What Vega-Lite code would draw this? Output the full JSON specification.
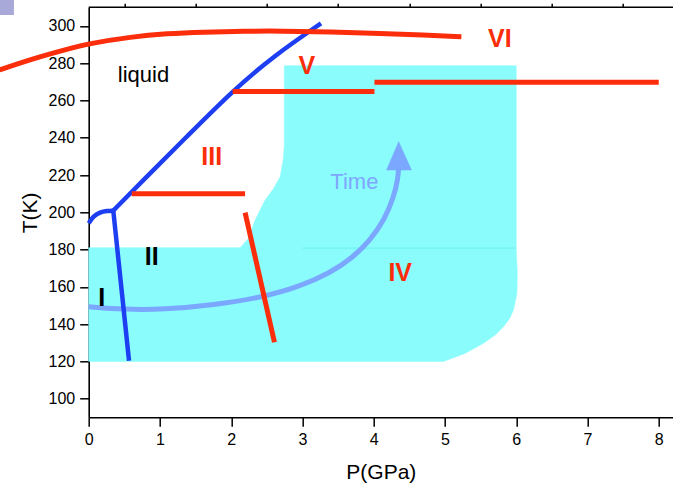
{
  "$schema": "https://vega.github.io/schema/vega-lite/v6.json",
  "width": 584.3,
  "height": 410,
  "autosize": {"type": "none"},
  "padding": {"left": 88.7, "top": 7.3, "right": 0, "bottom": 66.7},
  "background": "white",
  "config": {
    "font": "Liberation Sans",
    "view": {"stroke": null},
    "axis": {
      "grid": false,
      "domainColor": "black",
      "domainWidth": 1.6,
      "tickColor": "black",
      "tickWidth": 1.5,
      "labelColor": "black",
      "labelFont": "Liberation Sans",
      "labelFontSize": 16,
      "titleFont": "Liberation Sans",
      "titleFontSize": 21,
      "titleFontWeight": "normal",
      "titleColor": "black"
    }
  },
  "datasets": {
    "poly": [
      {"P": 0, "T": 120, "o": 1},
      {"P": 4.98, "T": 120, "o": 2},
      {"P": 5.28, "T": 124.3, "o": 3},
      {"P": 5.54, "T": 129.7, "o": 4},
      {"P": 5.71, "T": 134.3, "o": 5},
      {"P": 5.82, "T": 138.6, "o": 6},
      {"P": 5.91, "T": 143.2, "o": 7},
      {"P": 5.96, "T": 147.5, "o": 8},
      {"P": 6.01, "T": 156.5, "o": 9},
      {"P": 6.015, "T": 167.3, "o": 10},
      {"P": 6.0, "T": 180, "o": 11},
      {"P": 6.0, "T": 278.7, "o": 12},
      {"P": 2.745, "T": 278.7, "o": 13},
      {"P": 2.745, "T": 236, "o": 14},
      {"P": 2.729, "T": 228.1, "o": 15},
      {"P": 2.687, "T": 219.1, "o": 16},
      {"P": 2.59, "T": 212.5, "o": 17},
      {"P": 2.476, "T": 206.6, "o": 18},
      {"P": 2.336, "T": 195.9, "o": 19},
      {"P": 2.24, "T": 186, "o": 20},
      {"P": 2.125, "T": 181, "o": 21},
      {"P": 0, "T": 181, "o": 22}
    ],
    "arrowhead": [
      {"P": 4.35, "T": 237.9, "o": 1},
      {"P": 4.53, "T": 222.7, "o": 2},
      {"P": 4.18, "T": 222.7, "o": 3}
    ],
    "square": [
      {"P1": -1.3, "P2": -1.049, "T1": 305.9, "T2": 315}
    ],
    "lines": [
      {"s": "faint", "P": 3.0, "T": 180.8, "o": 1},
      {"s": "faint", "P": 6.0, "T": 180.8, "o": 2},

      {"s": "time", "P": 0, "T": 149.3, "o": 1},
      {"s": "time", "P": 0.5, "T": 147.8, "o": 2},
      {"s": "time", "P": 1.05, "T": 147.8, "o": 3},
      {"s": "time", "P": 1.75, "T": 150.2, "o": 4},
      {"s": "time", "P": 2.45, "T": 154.5, "o": 5},
      {"s": "time", "P": 2.95, "T": 160, "o": 6},
      {"s": "time", "P": 3.39, "T": 167.5, "o": 7},
      {"s": "time", "P": 3.7, "T": 175.5, "o": 8},
      {"s": "time", "P": 3.95, "T": 185, "o": 9},
      {"s": "time", "P": 4.15, "T": 196, "o": 10},
      {"s": "time", "P": 4.28, "T": 208, "o": 11},
      {"s": "time", "P": 4.34, "T": 218, "o": 12},
      {"s": "time", "P": 4.35, "T": 224, "o": 13},

      {"s": "b1", "P": 0, "T": 194.1, "o": 1},
      {"s": "b1", "P": 0.065, "T": 197.9, "o": 2},
      {"s": "b1", "P": 0.159, "T": 200.1, "o": 3},
      {"s": "b1", "P": 0.253, "T": 200.8, "o": 4},
      {"s": "b1", "P": 0.345, "T": 200.9, "o": 5},
      {"s": "b2", "P": 0.345, "T": 200.9, "o": 1},
      {"s": "b2", "P": 0.767, "T": 217.3, "o": 2},
      {"s": "b2", "P": 1.4, "T": 241.5, "o": 3},
      {"s": "b2", "P": 2.02, "T": 265.2, "o": 4},
      {"s": "b2", "P": 2.6, "T": 284, "o": 5},
      {"s": "b2", "P": 3.26, "T": 301.4, "o": 6},
      {"s": "b3", "P": 0.345, "T": 200.9, "o": 1},
      {"s": "b3", "P": 0.566, "T": 120.3, "o": 2},

      {"s": "r1", "P": -1.3, "T": 275.8, "o": 1},
      {"s": "r1", "P": -0.8, "T": 282.3, "o": 2},
      {"s": "r1", "P": -0.3, "T": 287.6, "o": 3},
      {"s": "r1", "P": 0, "T": 290.5, "o": 4},
      {"s": "r1", "P": 0.6, "T": 294.2, "o": 5},
      {"s": "r1", "P": 1.1, "T": 295.9, "o": 6},
      {"s": "r1", "P": 1.6, "T": 296.7, "o": 7},
      {"s": "r1", "P": 2.2, "T": 297.2, "o": 8},
      {"s": "r1", "P": 2.7, "T": 297.3, "o": 9},
      {"s": "r1", "P": 3.4, "T": 296.8, "o": 10},
      {"s": "r1", "P": 4.1, "T": 296, "o": 11},
      {"s": "r1", "P": 4.7, "T": 295.1, "o": 12},
      {"s": "r1", "P": 5.23, "T": 294.2, "o": 13},
      {"s": "r2", "P": 0.604, "T": 210, "o": 1},
      {"s": "r2", "P": 2.195, "T": 210, "o": 2},
      {"s": "r3", "P": 2.195, "T": 199.8, "o": 1},
      {"s": "r3", "P": 2.607, "T": 130.3, "o": 2},
      {"s": "r4", "P": 2.02, "T": 264.8, "o": 1},
      {"s": "r4", "P": 4.01, "T": 264.8, "o": 2},
      {"s": "r5", "P": 4.01, "T": 269.8, "o": 1},
      {"s": "r5", "P": 8.0, "T": 269.8, "o": 2}
    ],
    "roman": [
      {"t": "I", "P": 0.183, "T": 153.9, "c": "black"},
      {"t": "II", "P": 0.885, "T": 175.9, "c": "black"},
      {"t": "III", "P": 1.727, "T": 229.5, "c": "#fb2d0a"},
      {"t": "IV", "P": 4.372, "T": 167.3, "c": "#fb2d0a"},
      {"t": "V", "P": 3.06, "T": 278.7, "c": "#fb2d0a"},
      {"t": "VI", "P": 5.77, "T": 293.0, "c": "#fb2d0a"}
    ],
    "liquid": [{"t": "liquid", "P": 0.769, "T": 270.1}],
    "time": [{"t": "Time", "P": 3.728, "T": 212.3}]
  },
  "resolve": {"axis": {"x": "independent", "y": "independent"}},
  "layer": [
    {
      "data": {"name": "poly"},
      "mark": {"type": "line", "interpolate": "linear-closed", "fill": "#8afcfc", "stroke": "#8afcfc", "strokeWidth": 0.5},
      "encoding": {
        "x": {"field": "P", "type": "quantitative", "scale": {"domain": [0, 8.2], "nice": false, "zero": false},
          "axis": {"title": "P(GPa)", "values": [0, 1, 2, 3, 4, 5, 6, 7, 8], "tickSize": 9, "labelPadding": 5, "titlePadding": 14, "labelFlush": false}},
        "y": {"field": "T", "type": "quantitative", "scale": {"domain": [90, 310], "nice": false, "zero": false},
          "axis": {"title": "T(K)", "values": [100, 120, 140, 160, 180, 200, 220, 240, 260, 280, 300], "tickSize": 9, "labelPadding": 5, "titlePadding": 8, "labelFlush": false}},
        "order": {"field": "o", "type": "quantitative"}
      }
    },
    {
      "data": {"name": "lines"},
      "transform": [{"filter": "datum.s == 'faint'"}],
      "mark": {"type": "line", "color": "#6ef0f2", "strokeWidth": 1},
      "encoding": {
        "x": {"field": "P", "type": "quantitative", "scale": {"domain": [0, 8.2], "nice": false, "zero": false},
          "axis": {"title": null, "values": [0.5, 1.5, 2.5, 3.5, 4.5, 5.5, 6.5, 7.5], "tickSize": 4, "labels": false, "domain": false}},
        "y": {"field": "T", "type": "quantitative", "scale": {"domain": [90, 310], "nice": false, "zero": false},
          "axis": {"title": null, "values": [90, 110, 130, 150, 170, 190, 210, 230, 250, 270, 290, 310], "tickSize": 4, "labels": false, "domain": false}},
        "order": {"field": "o", "type": "quantitative"}
      }
    },
    {
      "data": {"name": "lines"},
      "transform": [{"filter": "datum.s == 'time'"}],
      "mark": {"type": "line", "interpolate": "basis", "color": "#7ba7ff", "strokeWidth": 5},
      "encoding": {
        "x": {"field": "P", "type": "quantitative", "axis": null},
        "y": {"field": "T", "type": "quantitative", "axis": null},
        "order": {"field": "o", "type": "quantitative"}
      }
    },
    {
      "data": {"name": "arrowhead"},
      "mark": {"type": "line", "interpolate": "linear-closed", "fill": "#7ba7ff", "stroke": "#7ba7ff", "strokeWidth": 0.5},
      "encoding": {
        "x": {"field": "P", "type": "quantitative", "axis": null},
        "y": {"field": "T", "type": "quantitative", "axis": null},
        "order": {"field": "o", "type": "quantitative"}
      }
    },
    {
      "data": {"name": "lines"},
      "transform": [{"filter": {"field": "s", "oneOf": ["b1", "b2", "b3"]}}],
      "mark": {"type": "line", "interpolate": "basis", "color": "#1e3ef2", "strokeWidth": 4.5},
      "encoding": {
        "x": {"field": "P", "type": "quantitative", "axis": null},
        "y": {"field": "T", "type": "quantitative", "axis": null},
        "detail": {"field": "s", "type": "nominal"},
        "order": {"field": "o", "type": "quantitative"}
      }
    },
    {
      "data": {"name": "lines"},
      "transform": [{"filter": {"field": "s", "oneOf": ["r1", "r2", "r3", "r4", "r5"]}}],
      "mark": {"type": "line", "interpolate": "basis", "color": "#fb2d0a", "strokeWidth": 5},
      "encoding": {
        "x": {"field": "P", "type": "quantitative", "axis": null},
        "y": {"field": "T", "type": "quantitative", "axis": null},
        "detail": {"field": "s", "type": "nominal"},
        "order": {"field": "o", "type": "quantitative"}
      }
    },
    {
      "data": {"values": [{}]},
      "mark": {"type": "rule", "color": "black", "strokeWidth": 1.6},
      "encoding": {"y": {"datum": 310, "type": "quantitative", "axis": null}}
    },
    {
      "data": {"name": "square"},
      "mark": {"type": "rect", "color": "#a9a9d9"},
      "encoding": {
        "x": {"field": "P1", "type": "quantitative", "axis": null},
        "x2": {"field": "P2"},
        "y": {"field": "T1", "type": "quantitative", "axis": null},
        "y2": {"field": "T2"}
      }
    },
    {
      "data": {"name": "roman"},
      "mark": {"type": "text", "font": "Liberation Sans", "fontSize": 25, "fontWeight": "bold", "baseline": "middle", "align": "center"},
      "encoding": {
        "x": {"field": "P", "type": "quantitative", "axis": null},
        "y": {"field": "T", "type": "quantitative", "axis": null},
        "text": {"field": "t"},
        "color": {"field": "c", "type": "nominal", "scale": null}
      }
    },
    {
      "data": {"name": "liquid"},
      "mark": {"type": "text", "font": "Liberation Sans", "fontSize": 22, "baseline": "alphabetic", "align": "center", "color": "black"},
      "encoding": {
        "x": {"field": "P", "type": "quantitative", "axis": null},
        "y": {"field": "T", "type": "quantitative", "axis": null},
        "text": {"field": "t"}
      }
    },
    {
      "data": {"name": "time"},
      "mark": {"type": "text", "font": "Liberation Sans", "fontSize": 22, "baseline": "alphabetic", "align": "center", "color": "#7fa6ff"},
      "encoding": {
        "x": {"field": "P", "type": "quantitative", "axis": null},
        "y": {"field": "T", "type": "quantitative", "axis": null},
        "text": {"field": "t"}
      }
    }
  ]
}
